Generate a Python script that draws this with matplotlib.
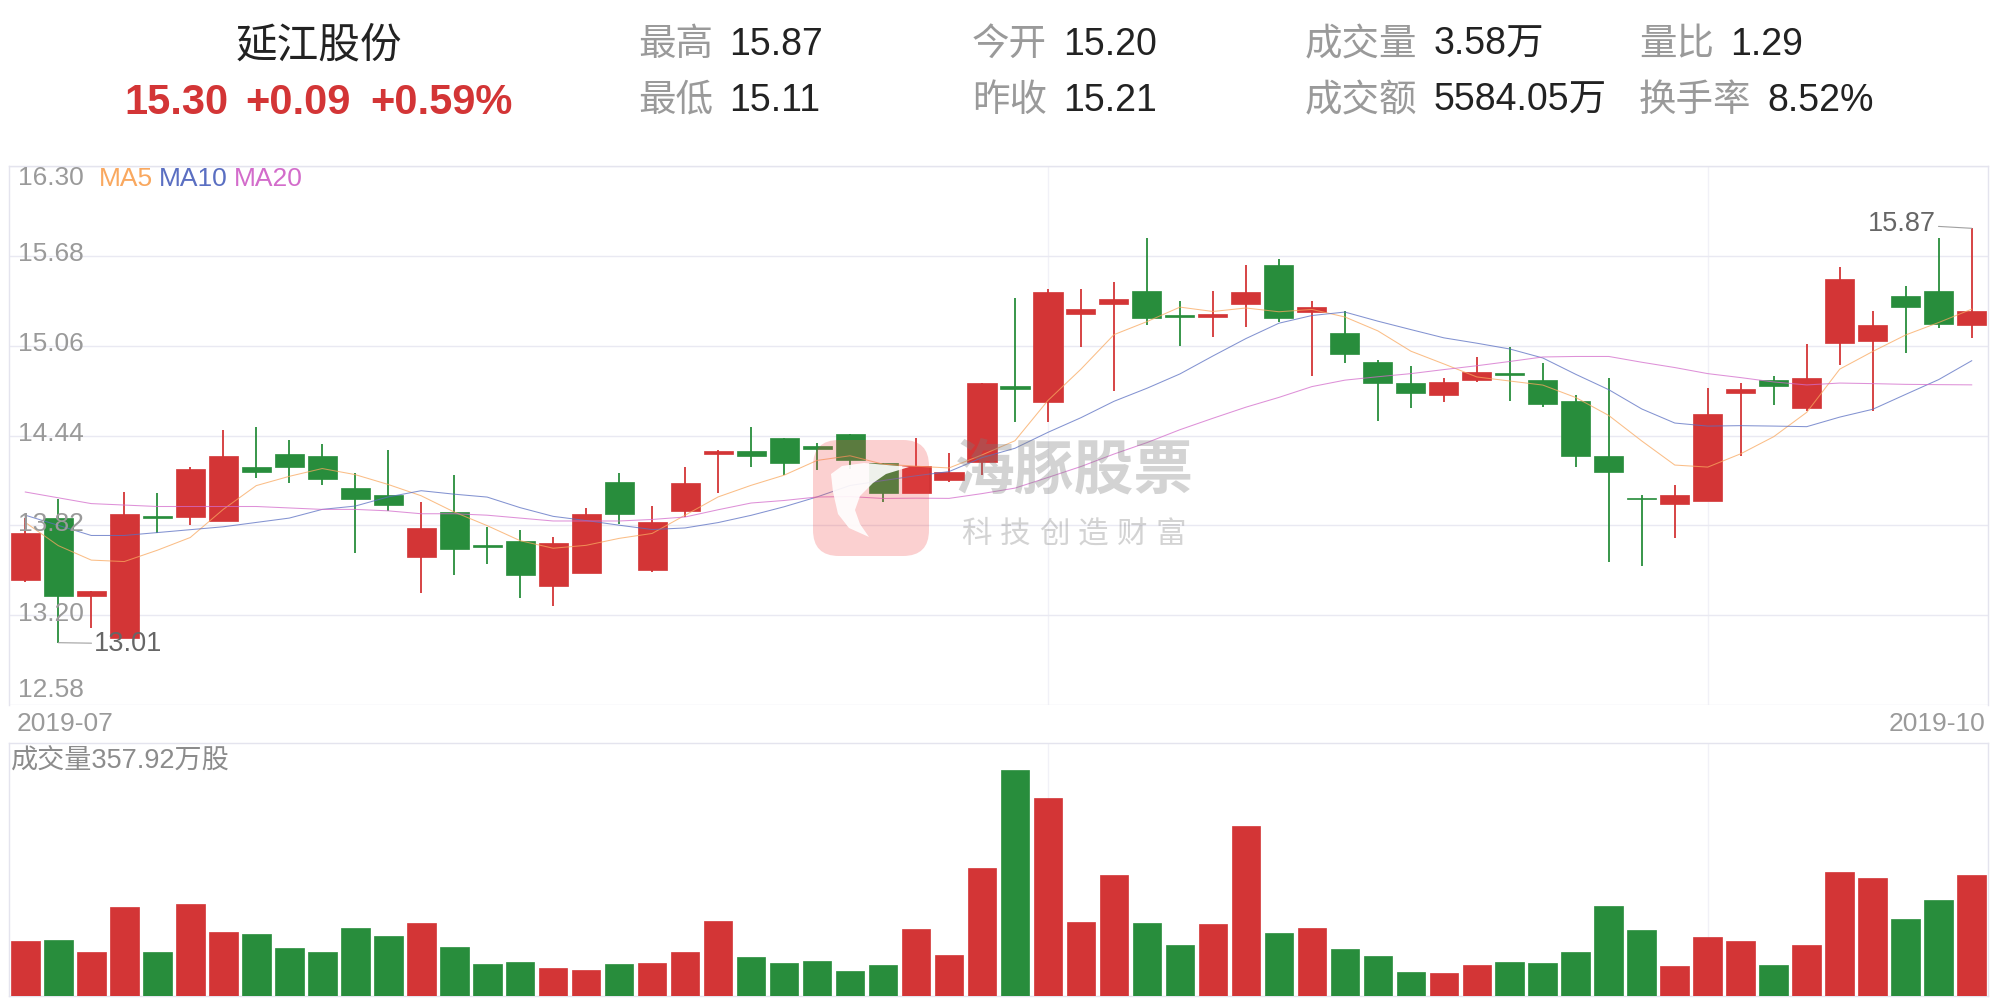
import matplotlib
matplotlib.use('Agg')
import matplotlib.pyplot as plt
import numpy as np
from matplotlib.patches import FancyBboxPatch, Polygon
from matplotlib import transforms

plt.rcParams['font.family'] = ['Liberation Sans', 'Noto Sans CJK SC', 'DejaVu Sans']

# ---------------- data ----------------
opens = [13.44, 13.87, 13.33, 13.04, 13.88, 13.88, 13.85, 14.22, 14.31, 14.30,
         14.08, 14.03, 13.60, 13.91, 13.68, 13.71, 13.40, 13.49, 14.12, 13.51,
         13.92, 14.31, 14.33, 14.42, 14.37, 14.45, 14.25, 14.04, 14.13, 14.26,
         14.78, 14.67, 15.28, 15.35, 15.44, 15.27, 15.26, 15.35, 15.62, 15.29,
         15.15, 14.95, 14.80, 14.72, 14.82, 14.86, 14.82, 14.68, 14.30, 14.00,
         13.97, 13.99, 14.73, 14.82, 14.63, 15.08, 15.09, 15.40, 15.44, 15.20]
highs = [13.87, 14.00, 13.37, 14.05, 14.04, 14.22, 14.48, 14.50, 14.41, 14.38,
         14.18, 14.34, 13.98, 14.17, 13.81, 13.79, 13.74, 13.94, 14.18, 13.95,
         14.22, 14.34, 14.50, 14.42, 14.39, 14.45, 14.25, 14.42, 14.32, 14.80,
         15.39, 15.45, 15.45, 15.50, 15.80, 15.37, 15.44, 15.62, 15.66, 15.37,
         15.30, 14.96, 14.92, 14.84, 14.98, 15.05, 14.94, 14.72, 14.84, 14.03,
         14.10, 14.77, 14.80, 14.85, 15.07, 15.60, 15.30, 15.47, 15.80, 15.87]
lows = [13.43, 13.01, 13.11, 13.04, 13.77, 13.82, 13.85, 14.15, 14.11, 14.10,
        13.63, 13.92, 13.35, 13.48, 13.55, 13.32, 13.26, 13.49, 13.83, 13.50,
        13.88, 14.04, 14.22, 14.17, 14.20, 14.21, 13.98, 14.04, 14.12, 14.17,
        14.53, 14.53, 15.05, 14.75, 15.20, 15.06, 15.12, 15.19, 15.22, 14.85,
        14.94, 14.54, 14.63, 14.67, 14.81, 14.68, 14.64, 14.22, 13.57, 13.54,
        13.73, 13.99, 14.30, 14.65, 14.61, 14.93, 14.61, 15.01, 15.18, 15.11]
closes = [13.77, 13.33, 13.37, 13.90, 13.87, 14.21, 14.30, 14.19, 14.22, 14.14,
          14.00, 13.96, 13.80, 13.66, 13.67, 13.48, 13.70, 13.90, 13.90, 13.84,
          14.11, 14.33, 14.30, 14.25, 14.35, 14.27, 14.04, 14.23, 14.19, 14.80,
          14.76, 15.43, 15.31, 15.38, 15.25, 15.26, 15.28, 15.43, 15.25, 15.33,
          15.00, 14.80, 14.73, 14.81, 14.88, 14.86, 14.66, 14.30, 14.19, 14.00,
          14.03, 14.59, 14.76, 14.78, 14.84, 15.52, 15.20, 15.33, 15.21, 15.30]
# volume, 万股
volumes = [162, 165, 130, 263, 130, 272, 189, 183, 141, 130,
           201, 177, 216, 144, 94, 100, 84, 76, 94, 97,
           130, 222, 115, 97, 103, 73, 91, 198, 121, 379,
           669, 586, 219, 358, 216, 150, 213, 503, 186, 201,
           138, 118, 70, 67, 91, 100, 97, 130, 266, 195,
           88, 174, 162, 91, 150, 367, 349, 227, 284, 358]
# moving-average values before enough in-window history exists
ma5_head = [13.84, 13.68, 13.58, 13.57]
ma10_head = [13.89, 13.82, 13.75, 13.75, 13.77, 13.79, 13.81, 13.84, 13.87]
ma20_head = [14.05, 14.01, 13.97, 13.96, 13.95, 13.95, 13.95, 13.95, 13.94, 13.93,
             13.93, 13.92, 13.90, 13.90, 13.89, 13.87, 13.85, 13.85, 13.85]
y_ticks = [12.58, 13.20, 13.82, 14.44, 15.06, 15.68, 16.30]
x_labels = ['2019-07', '2019-10']
month_lines = [31, 51]
high_idx, high_val = 59, 15.87
low_idx, low_val = 1, 13.01

name = '延江股份'
price_texts = ['15.30', '+0.09', '+0.59%']
stat_labels = [['最高', '最低'], ['今开', '昨收'], ['成交量', '成交额'], ['量比', '换手率']]
stat_values = [['15.87', '15.11'], ['15.20', '15.21'], ['3.58万', '5584.05万'], ['1.29', '8.52%']]
vol_title = '成交量357.92万股'

# ---------------- style ----------------
RED = '#d33536'
GREEN = '#288d3c'
GRID = '#e9e9f2'
BORDER = '#e4e4ee'
LABEL = '#9a9a9a'
MA_COLORS = ['#f9a85f', '#5a6fc2', '#d36ccb']

def moving_avg(vals, n, head):
    out = list(head)
    for i in range(n - 1, len(vals)):
        out.append(float(np.mean(vals[i - n + 1:i + 1])))
    return out

ma5 = moving_avg(closes, 5, ma5_head)
ma10 = moving_avg(closes, 10, ma10_head)
ma20 = moving_avg(closes, 20, ma20_head)

N = len(closes)
x = np.arange(N)
o = np.array(opens); c = np.array(closes); h = np.array(highs); l = np.array(lows)
up = c > o
colors = [RED if u else GREEN for u in up]

W, H = 2001, 999
fig = plt.figure(figsize=(W / 100, H / 100), dpi=100)
fig.patch.set_facecolor('white')

def frac_rect(left, top, right, bottom):
    return [left / W, 1 - bottom / H, (right - left) / W, (bottom - top) / H]

# ---------------- main candlestick axes ----------------
ax = fig.add_axes(frac_rect(8.8, 166, 1988.2, 705))
ax.set_xlim(-0.5, N - 0.5)
ax.set_ylim(y_ticks[0], y_ticks[-1])
ax.set_yticks(y_ticks)
ax.set_xticks(month_lines)
ax.tick_params(left=False, bottom=False, labelleft=False, labelbottom=False)
ax.yaxis.grid(True, color=GRID, lw=1.0)
ax.xaxis.grid(True, color='#f1f1f7', lw=1.0)
ax.set_axisbelow(True)
for s in ['left', 'right', 'top']:
    ax.spines[s].set_color(BORDER)
    ax.spines[s].set_linewidth(1.0)
ax.spines['bottom'].set_visible(False)

# wicks
ax.vlines(x, l, h, colors=colors, lw=1.3, zorder=2)
# bodies
min_h = 0.012
body_bottom = np.minimum(o, c)
body_h = np.maximum(np.abs(c - o), min_h)
ax.bar(x, body_h, bottom=body_bottom, width=0.88, color=colors, edgecolor=colors,
       lw=0.5, zorder=3)

# moving averages
for vals, col in zip([ma5, ma10, ma20], MA_COLORS):
    ax.plot(x, vals, color=col, lw=0.75, alpha=0.75, zorder=4)

# y labels inside plot
blend = transforms.blended_transform_factory(ax.transAxes, ax.transData)
for i, t in enumerate(y_ticks):
    if i == len(y_ticks) - 1:
        dy = -12 * 0.72
    elif i == 0:
        dy = 15 * 0.72
    else:
        dy = 1.5 * 0.72
    tr = transforms.offset_copy(blend, fig=fig, x=0, y=dy, units='points')
    ax.text(0.0045, t, f'{t:.2f}', transform=tr, ha='left', va='center',
            fontsize=19, color=LABEL, zorder=6)

# high / low annotations
ax.annotate(f'{high_val:.2f}', xy=(high_idx, high_val), xytext=(-36 * 0.72, 4 * 0.72),
            textcoords='offset points', ha='right', va='center', fontsize=19.5,
            color='#666666', zorder=6,
            arrowprops=dict(arrowstyle='-', color='#a0a0a0', lw=0.8,
                            shrinkA=0, shrinkB=0))
ax.annotate(f'{low_val:.2f}', xy=(low_idx, low_val), xytext=(36 * 0.72, -1 * 0.72),
            textcoords='offset points', ha='left', va='center', fontsize=19.5,
            color='#666666', zorder=6,
            arrowprops=dict(arrowstyle='-', color='#a0a0a0', lw=0.8,
                            shrinkA=0, shrinkB=0))

# ---------------- volume axes ----------------
vax = fig.add_axes(frac_rect(8.8, 743, 1988.2, 996))
vax.set_xlim(-0.5, N - 0.5)
vax.set_ylim(0, 750)
vax.set_xticks(month_lines)
vax.set_yticks([])
vax.tick_params(left=False, bottom=False, labelleft=False, labelbottom=False)
vax.xaxis.grid(True, color='#f1f1f7', lw=1.0)
vax.set_axisbelow(True)
for s in vax.spines.values():
    s.set_color(BORDER)
    s.set_linewidth(1.0)
vax.bar(x, volumes, width=0.87, color=colors, edgecolor=colors, lw=0.5, zorder=3)

# ---------------- overlay (pixel coords) ----------------
ov = fig.add_axes([0, 0, 1, 1], zorder=10)
ov.set_xlim(0, W)
ov.set_ylim(H, 0)
ov.axis('off')
ov.patch.set_alpha(0)

# header
ov.text(319, 47, name, ha='center', va='center', fontsize=30, color='#222222')
for xp, t in zip([124, 245, 370], price_texts):
    ov.text(xp, 103, t, ha='left', va='center', fontsize=30, fontweight='bold', color=RED)
col_x = [638, 972, 1305, 1639]
row_y = [45, 101]
for cx, labs, vals in zip(col_x, stat_labels, stat_values):
    for ry, lab, val in zip(row_y, labs, vals):
        ov.text(cx, ry, lab, ha='left', va='center', fontsize=27, color=LABEL)
        ov.text(cx + len(lab) * 37.5 + 16, ry, val, ha='left', va='center',
                fontsize=27, color='#222222')

# legend
for xp, lab, col in zip([99, 159, 234], ['MA5', 'MA10', 'MA20'], MA_COLORS):
    ov.text(xp, 179, lab, ha='left', va='center', fontsize=19, color=col)

# x labels
ov.text(16.6, 724, x_labels[0], ha='left', va='center', fontsize=19, color=LABEL)
ov.text(1985, 724, x_labels[1], ha='right', va='center', fontsize=19, color=LABEL)

# volume title
ov.text(11, 762, vol_title, ha='left', va='center', fontsize=19.5, color='#8c8c8c')

# watermark
logo = FancyBboxPatch((813, 440), 116, 116, boxstyle='round,pad=0,rounding_size=26',
                      facecolor='#f04a4a', edgecolor='none', alpha=0.26)
ov.add_patch(logo)
dolphin = Polygon([(831, 474), (842, 466), (864, 463), (909, 467), (886, 474),
                   (873, 483), (860, 496), (855, 510), (860, 524), (869, 537),
                   (849, 528), (838, 514), (833, 492)],
                  closed=True, facecolor='white', edgecolor='none', alpha=0.9)
ov.add_patch(dolphin)
ov.text(1074, 472, '海豚股票', ha='center', va='center', fontsize=43,
        fontweight='bold', color='#7a7a7a', alpha=0.33)
for k, ch in enumerate('科技创造财富'):
    ov.text(976 + 39 * k, 535, ch, ha='center', va='center', fontsize=22,
            color='#7a7a7a', alpha=0.33)

fig.savefig('out.png', dpi=100, facecolor='white')
